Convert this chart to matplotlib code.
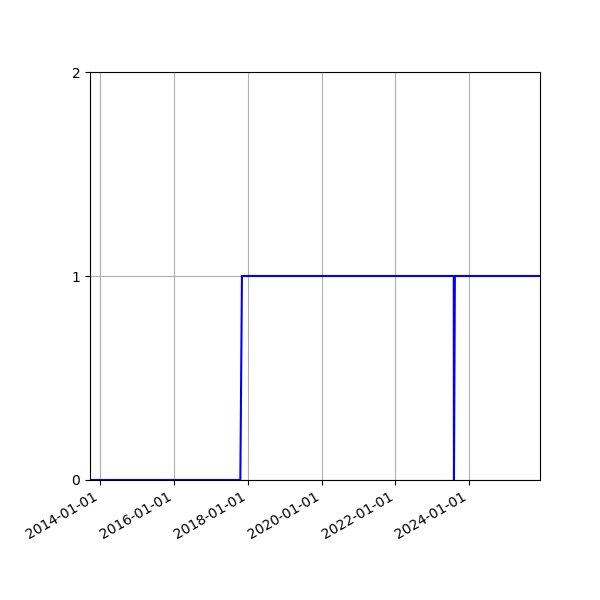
import numpy as np
import pandas as pd
import matplotlib
matplotlib.use('Agg')
import matplotlib.pyplot as plt
import matplotlib.dates as mdates

# state over time (step changes)
dates = pd.to_datetime(['2013-09-24', '2017-10-20', '2017-11-05', '2023-08-01',
                        '2023-08-03', '2023-08-12', '2025-12-01'])
values = [0, 0, 1, 1, 0, 1, 1]

fig, ax = plt.subplots(figsize=(6, 6), dpi=100)
ax.plot(dates, values, color='blue')
ax.set_xlim(dates[0], dates[-1])
ax.set_ylim(0, 2)
ax.set_yticks([0, 1, 2])
ax.xaxis.set_major_locator(mdates.YearLocator(2))
ax.xaxis.set_major_formatter(mdates.DateFormatter('%Y-%m-%d'))
ax.grid()
fig.autofmt_xdate()
fig.subplots_adjust(left=0.15, right=0.9, top=0.88, bottom=0.2)
fig.savefig('out.png')
